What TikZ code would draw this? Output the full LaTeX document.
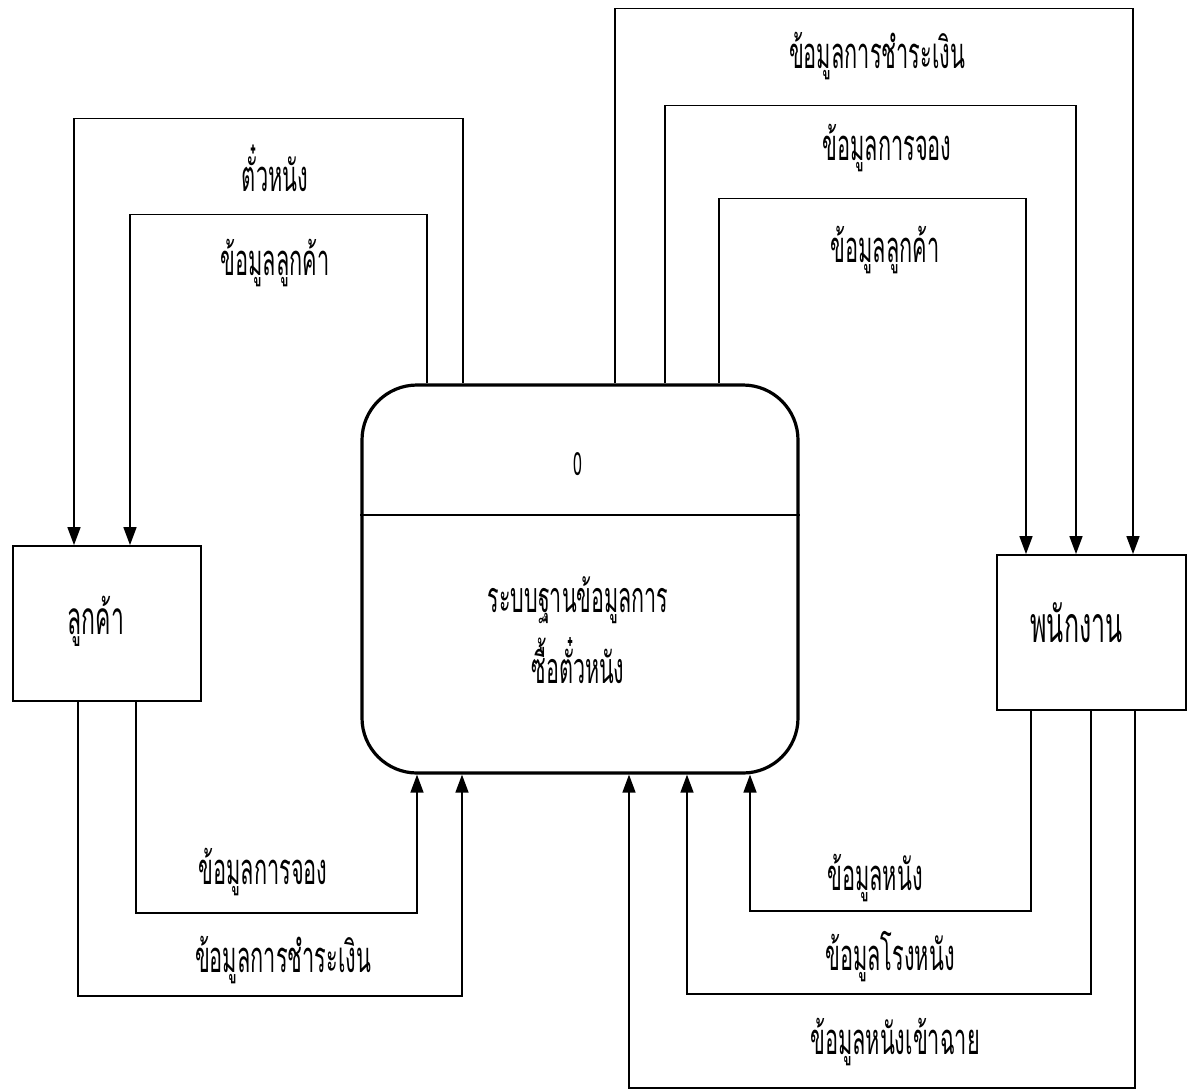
\documentclass[tikz,border=0pt]{standalone}
\usepackage{fontspec}
\setmainfont{Liberation Sans}
\newfontfamily\thai[Script=Thai,FakeStretch=0.5]{Loma}
\usetikzlibrary{arrows.meta}
\begin{document}
\begin{tikzpicture}[x=1pt,y=-1pt,
  flow/.style={line width=1.6pt,-{Triangle[width=13pt,length=18pt]}},
  entity/.style={draw,line width=1.8pt,minimum width=188pt,minimum height=155pt,inner sep=0pt},
  proc/.style={draw,line width=3.2pt,rounded corners=55pt,minimum width=436pt,minimum height=388pt,inner sep=0pt},
  lbl/.style={font=\thai\fontsize{43.5}{50}\selectfont,inner sep=0pt}]
\useasboundingbox (0,0) rectangle (1194,1088);
\fill[white] (0,0) rectangle (1194,1088);

% process box with its number and name
\node[proc] (sys) at (580,579) {};
\draw[line width=1.8pt] (sys.west |- 0,515) -- (sys.east |- 0,515);
\node[font=\thai\fontsize{32}{36}\selectfont,inner sep=0pt] (num) at (578,464) {0};
\node[lbl,font=\thai\fontsize{43}{50}\selectfont] (title1) at (578,600) {ระบบฐานข้อมูลการ};
\node[lbl,font=\thai\fontsize{43}{50}\selectfont] (title2) at (578,661) {ซื้อตั๋วหนัง};

% external entities (names set a little off centre)
\node[entity,font=\thai\fontsize{46}{54}\selectfont] (cust) at (107,623.5)
  {\raisebox{2pt}[\height][\depth]{ลูกค้า}\hspace*{22pt}};
\node[entity,minimum width=189pt,font=\thai\fontsize{50}{58}\selectfont] (staff) at (1091.5,632.5)
  {\raisebox{10pt}[\height][\depth]{พนักงาน}\hspace*{30pt}};

% data flows out of the system
\draw[flow] ([xshift=-117pt]sys.north) -- ++(0,-265) -| ([xshift=-33pt]cust.north);
\draw[flow] ([xshift=-153pt]sys.north) -- ++(0,-169) -| ([xshift=23pt]cust.north);
\draw[flow] ([xshift=35pt]sys.north) -- ++(0,-375) -| ([xshift=41.5pt]staff.north);
\draw[flow] ([xshift=85pt]sys.north) -- ++(0,-278) -| ([xshift=-15.5pt]staff.north);
\draw[flow] ([xshift=139pt]sys.north) -- ++(0,-185) -| ([xshift=-65.5pt]staff.north);

% data flows into the system
\draw[flow] ([xshift=29pt]cust.south) -- ++(0,211) -| ([xshift=-163pt]sys.south);
\draw[flow] ([xshift=-29pt]cust.south) -- ++(0,294) -| ([xshift=-118pt]sys.south);
\draw[flow] ([xshift=-60.5pt]staff.south) -- ++(0,200) -| ([xshift=170pt]sys.south);
\draw[flow] ([xshift=-0.5pt]staff.south) -- ++(0,283) -| ([xshift=107pt]sys.south);
\draw[flow] ([xshift=43.5pt]staff.south) -- ++(0,377) -| ([xshift=49pt]sys.south);

% flow labels
\node[lbl] (l1) at (275,168) {ตั๋วหนัง};
\node[lbl] (l2) at (275,263) {ข้อมูลลูกค้า};
\node[lbl] (l3) at (877,56) {ข้อมูลการชำระเงิน};
\node[lbl] (l4) at (887,148) {ข้อมูลการจอง};
\node[lbl] (l5) at (885,250) {ข้อมูลลูกค้า};
\node[lbl] (l6) at (263,872) {ข้อมูลการจอง};
\node[lbl] (l7) at (283,960) {ข้อมูลการชำระเงิน};
\node[lbl] (l8) at (875,878) {ข้อมูลหนัง};
\node[lbl] (l9) at (890,957) {ข้อมูลโรงหนัง};
\node[lbl] (l10) at (895,1042) {ข้อมูลหนังเข้าฉาย};
\end{tikzpicture}
\end{document}
